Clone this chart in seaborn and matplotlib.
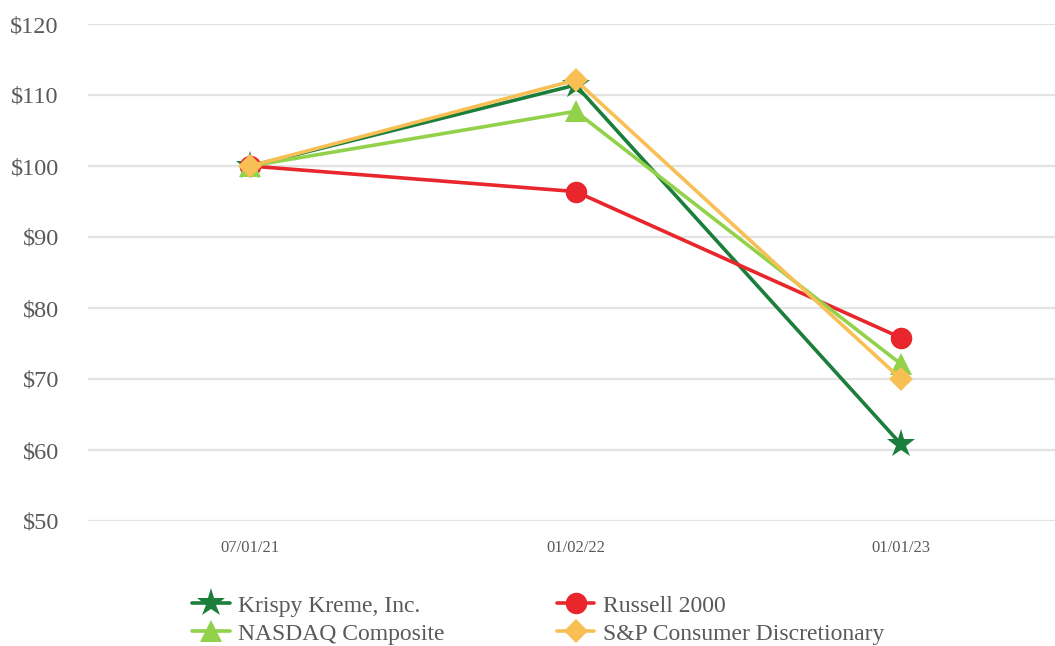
import matplotlib
matplotlib.use("Agg")
import matplotlib.pyplot as plt
import seaborn as sns
import pandas as pd

dates = ["07/01/21", "01/02/22", "01/01/23"]
series_names = ["Krispy Kreme, Inc.", "Russell 2000", "NASDAQ Composite", "S&P Consumer Discretionary"]
krispy = [100.0, 111.4, 60.8]
russell = [100.0, 96.4, 75.8]
nasdaq = [100.0, 107.7, 72.1]
sp_disc = [100.0, 112.1, 70.0]
y_ticks = [50, 60, 70, 80, 90, 100, 110, 120]

sns.set_theme(style="white")
plt.rcParams["font.family"] = ["Liberation Serif", "DejaVu Serif"]

df = pd.DataFrame({
    "date": dates * 4,
    "x": list(range(len(dates))) * 4,
    "value": krispy + russell + nasdaq + sp_disc,
    "series": [s for s in series_names for _ in dates],
})

colors = {
    "Krispy Kreme, Inc.": "#1b7e3a",
    "Russell 2000": "#e8262b",
    "NASDAQ Composite": "#92d24a",
    "S&P Consumer Discretionary": "#f8bf55",
}
markers = {
    "Krispy Kreme, Inc.": "*",
    "Russell 2000": "o",
    "NASDAQ Composite": "^",
    "S&P Consumer Discretionary": "D",
}
msizes = {
    "Krispy Kreme, Inc.": 21,
    "Russell 2000": 15.5,
    "NASDAQ Composite": 16,
    "S&P Consumer Discretionary": 12.5,
}

fig = plt.figure(figsize=(10.55, 6.46), dpi=100)
ax = fig.add_axes([88 / 1055, 1 - 521 / 646, 1 - 88 / 1055, (521 - 24) / 646])

for i, name in enumerate(series_names):
    sub = df[df["series"] == name]
    sns.lineplot(data=sub, x="x", y="value", ax=ax, color=colors[name],
                 marker=markers[name], markersize=msizes[name],
                 markeredgewidth=0, linewidth=2.6, label=name,
                 clip_on=False, zorder=3 + i)

ax.set_xlim(-0.498, 2.473)
ax.set_ylim(50, 120)
ax.set_yticks(y_ticks)
ax.set_yticklabels([f"${v}" for v in y_ticks], fontsize=17.5, color="#595959")
ax.set_xticks(range(len(dates)))
ax.set_xticklabels(dates, fontsize=12, color="#595959")
ax.tick_params(axis="y", length=0, pad=21)
ax.tick_params(axis="x", length=0, pad=14)
ax.set_xlabel("")
ax.set_ylabel("")
ax.grid(axis="y", color="#e3e3e3", linewidth=1.6)
ax.grid(axis="x", visible=False)
ax.set_axisbelow(True)
for sp in ax.spines.values():
    sp.set_visible(False)

ax.get_legend().remove()
handles, labels = ax.get_legend_handles_labels()
order = [0, 2, 1, 3]
leg = fig.legend([handles[i] for i in order], [labels[i] for i in order],
                 ncol=2, loc="upper left", bbox_to_anchor=(192 / 1055, 1 - 595 / 646),
                 frameon=False, fontsize=17, handlelength=1.6, handletextpad=0.35,
                 columnspacing=4.75, labelspacing=0.28, borderaxespad=0, borderpad=0)
for t in leg.get_texts():
    t.set_color("#595959")

fig.savefig("out.png", dpi=100)
